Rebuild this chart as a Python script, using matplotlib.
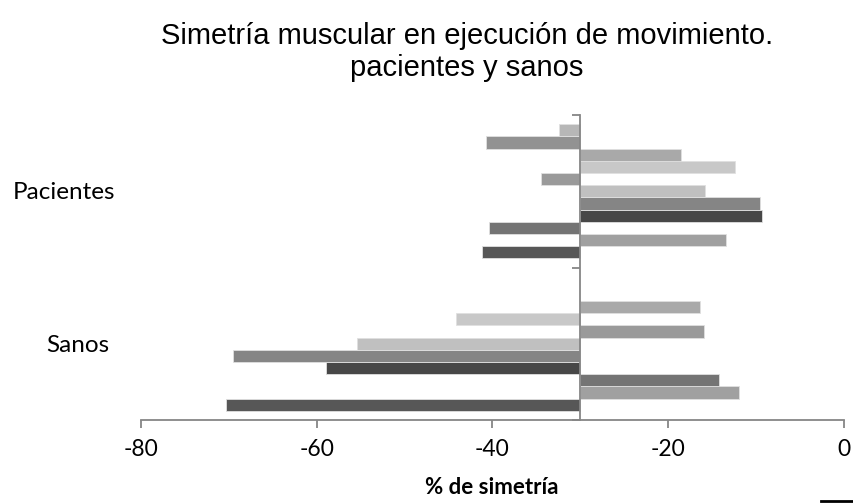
import matplotlib.pyplot as plt
from matplotlib.lines import Line2D
import numpy as np

groups = ["Sanos", "Pacientes"]

# one value per series (series 1 sits lowest inside each group)
pacientes = [-41.2, -13.4, -40.4, -9.3, -9.6, -15.8, -34.5, -12.4, -18.5, -40.7, -32.4]
sanos = [-70.3, -12.0, -14.2, -59.0, -69.5, -55.4, -15.9, -44.1, -16.4, np.nan, np.nan]

series_colors = ["#575757", "#a0a0a0", "#747474", "#474747", "#858585", "#c0c0c0",
                 "#9a9a9a", "#c8c8c8", "#a9a9a9", "#929292", "#b7b7b7"]

base = -30  # vertical axis crosses here
xticks = [-80, -60, -40, -20, 0]

W, H = 854, 504
fig = plt.figure(figsize=(W / 100, H / 100), dpi=100)
ax = fig.add_axes([141 / W, (H - 420) / H, (844 - 141) / W, (420 - 115) / H])

n = len(series_colors)
bar_h = 1 / (n + 1.5)
for g, vals in enumerate([sanos, pacientes]):
    vals = np.array(vals, dtype=float)
    ys = g + bar_h * (0.75 + np.arange(n) + 0.5)
    ax.barh(ys, vals - base, left=base, height=bar_h, color=series_colors,
            edgecolor="#e0e0e0", linewidth=0.6)

ax.set_xlim(-80, 0)
ax.set_ylim(0, 2)
ax.set_xticks(xticks)
ax.set_xticklabels([str(t) for t in xticks], fontsize=16.5, family="Lato")
ax.set_yticks([0, 1, 2])
ax.set_yticklabels([])

for s in ["top", "right"]:
    ax.spines[s].set_visible(False)
ax.spines["left"].set_position(("data", base))
ax.spines["left"].set_color("#868686")
ax.spines["bottom"].set_color("#868686")
ax.spines["left"].set_linewidth(1.3)
ax.spines["bottom"].set_linewidth(1.3)
ax.tick_params(axis="x", direction="out", length=6, width=1.3, color="#868686", pad=8)
ax.tick_params(axis="y", direction="out", length=6, width=1.3, color="#868686")

# category names sit far to the left of the plot area
fig.text(64 / W, 1 - 199 / H, "Pacientes", fontsize=17.5, family="Lato", ha="center", va="baseline")
fig.text(78 / W, 1 - 352 / H, "Sanos", fontsize=17.5, family="Lato", ha="center", va="baseline")

fig.text(492 / W, 1 - 488 / H, "% de simetría", fontsize=16, family="Lato",
         fontweight="bold", ha="center", va="center")

fig.text(467 / W, 1 - 44 / H, "Simetría muscular en ejecución de movimiento.",
         fontsize=21, family="Liberation Sans", ha="center", va="baseline")
fig.text(467 / W, 1 - 76 / H, "pacientes y sanos",
         fontsize=21, family="Liberation Sans", ha="center", va="baseline")

fig.add_artist(Line2D([821 / W, 1], [3 / H, 3 / H], color="black", linewidth=2))

fig.savefig("out.png", dpi=100)
